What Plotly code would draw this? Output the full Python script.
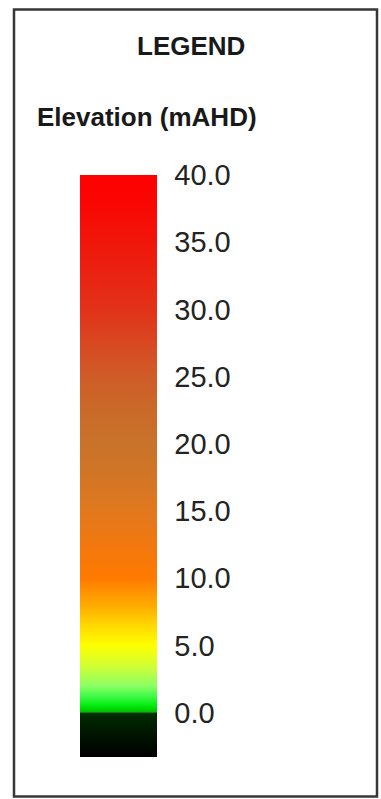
import plotly.graph_objects as go

# --- data -------------------------------------------------------------
title_text = "LEGEND"
variable_label = "Elevation (mAHD)"
tick_values = [0, 5, 10, 15, 20, 25, 30, 35, 40]
tick_labels = ["0.0", "5.0", "10.0", "15.0", "20.0", "25.0", "30.0", "35.0", "40.0"]
elev_min = -3.3
elev_max = 40.0

# colour ramp: elevation stops and colours
ramp_elev = [-3.3, -1.5, -0.05, 0.05, 0.5, 1.2, 2.0, 3.5, 5.0, 6.5, 8.0, 10.0,
             12.5, 15.0, 17.5, 20.0, 22.5, 25.0, 27.5, 30.0, 35.0, 38.0, 40.0]
ramp_colors = ["rgb(0,0,0)", "rgb(0,22,0)", "rgb(0,45,0)", "rgb(0,190,0)",
               "rgb(0,235,10)", "rgb(60,250,70)", "rgb(140,255,100)",
               "rgb(210,255,50)", "rgb(255,255,0)", "rgb(255,215,0)",
               "rgb(255,170,0)", "rgb(255,122,0)", "rgb(242,120,15)",
               "rgb(225,120,30)", "rgb(210,118,38)", "rgb(200,115,42)",
               "rgb(202,106,42)", "rgb(207,92,40)", "rgb(216,72,33)",
               "rgb(226,50,25)", "rgb(240,22,10)", "rgb(250,6,3)",
               "rgb(255,0,0)"]

# --- figure -----------------------------------------------------------
W, H = 381, 799
span = elev_max - elev_min
colorscale = [[(e - elev_min) / span, c] for e, c in zip(ramp_elev, ramp_colors)]

fig = go.Figure()
fig.add_trace(go.Scatter(
    x=tick_values, y=tick_values, mode="markers", hoverinfo="skip",
    showlegend=False,
    marker=dict(
        color=tick_values, colorscale=colorscale, cmin=elev_min, cmax=elev_max,
        showscale=True,
        colorbar=dict(
            x=80 / W, xanchor="left", xpad=0,
            y=1 - 175 / H, yanchor="top", ypad=0,
            thickness=77, thicknessmode="pixels",
            len=582, lenmode="pixels",
            outlinewidth=0,
            tickvals=tick_values, ticktext=tick_labels,
            ticks="outside", ticklen=12, tickcolor="rgba(0,0,0,0)",
            tickfont=dict(family="Liberation Sans, Arial, sans-serif",
                          size=29, color="rgb(35,35,35)"),
        ),
    ),
))

fig.update_layout(
    width=W, height=H,
    margin=dict(l=0, r=0, t=0, b=0),
    paper_bgcolor="white", plot_bgcolor="white",
    xaxis=dict(visible=False, range=[1000, 1001]),
    yaxis=dict(visible=False, range=[1000, 1001]),
    shapes=[dict(type="rect", xref="paper", yref="paper",
                 x0=14 / W, x1=377 / W, y0=1 - 796.5 / H, y1=1 - 9.5 / H,
                 line=dict(color="rgb(55,55,55)", width=2.5),
                 fillcolor="rgba(0,0,0,0)")],
    annotations=[
        dict(text="<b>%s</b>" % title_text, xref="paper", yref="paper",
             x=191.5 / W, y=1 - 46 / H, xanchor="center", yanchor="middle",
             showarrow=False,
             font=dict(family="Liberation Sans, Arial, sans-serif", size=26,
                       color="rgb(25,25,25)")),
        dict(text="<b>%s</b>" % variable_label, xref="paper", yref="paper",
             x=146.5 / W, y=1 - 117 / H, xanchor="center", yanchor="middle",
             showarrow=False,
             font=dict(family="Liberation Sans, Arial, sans-serif", size=26,
                       color="rgb(25,25,25)")),
    ],
)

fig.write_html(
    "out.html",
    config={"displayModeBar": False},
    post_script="document.body.style.margin='0';document.body.style.overflow='hidden';",
)
